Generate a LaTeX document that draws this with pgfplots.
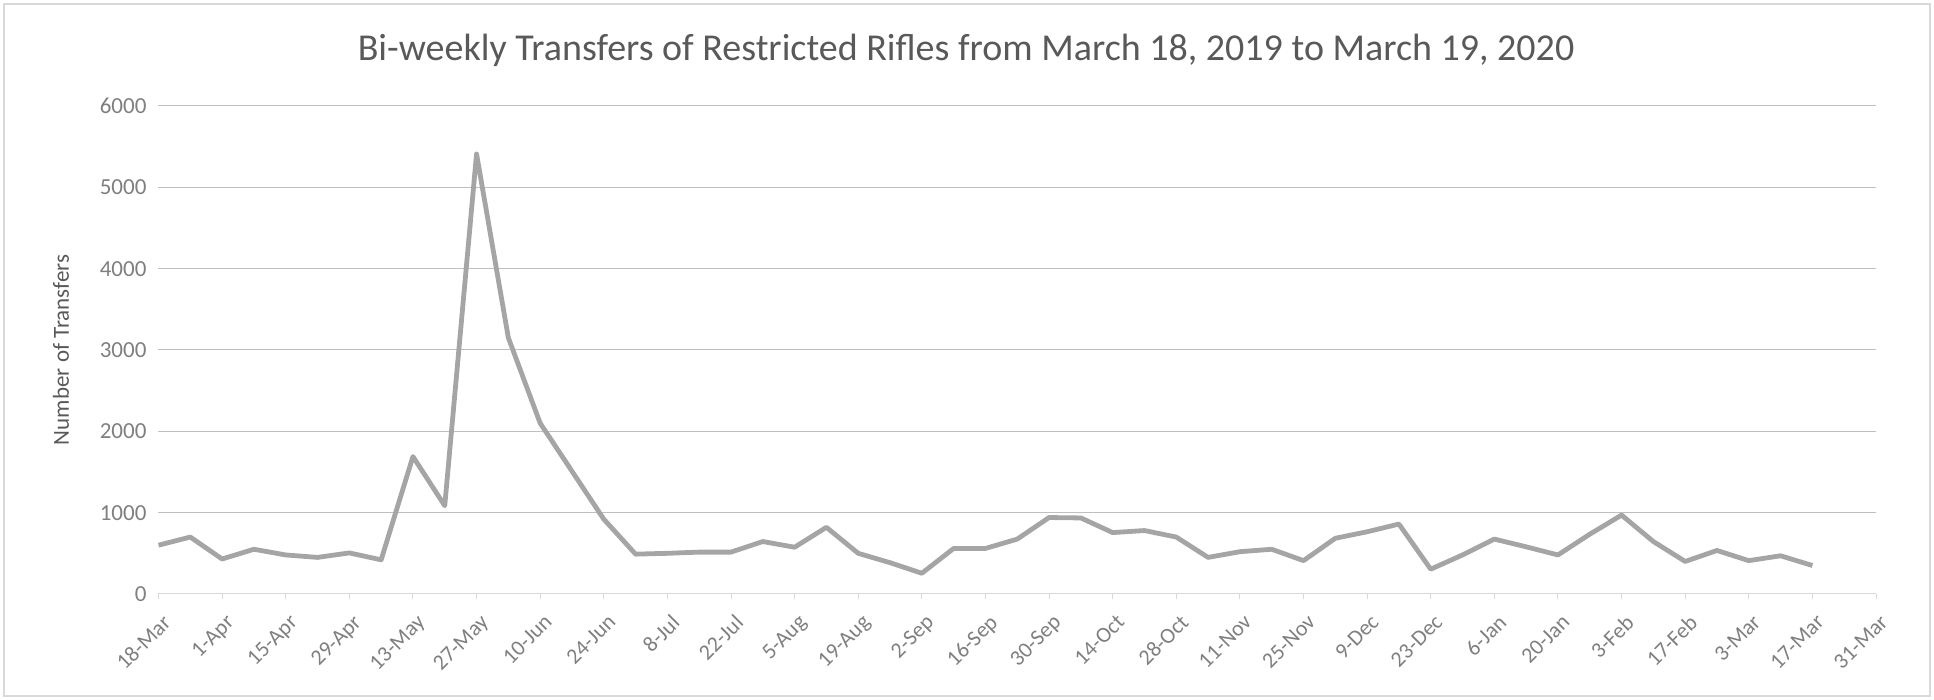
\documentclass[border=0pt]{standalone}
\usepackage{pgfplots}
\pgfplotsset{compat=1.18}
\usepackage{fontspec}
\setmainfont{Carlito}
\definecolor{txt}{HTML}{595959}
\definecolor{ticktxt}{HTML}{7F7F7F}
\definecolor{grid}{HTML}{D9D9D9}
\definecolor{ser}{HTML}{A5A5A5}
\pgfplotstableread{
w v
0 600
1 700
2 430
3 550
4 480
5 450
6 505
7 420
8 1690
9 1085
10 5410
11 3150
12 2100
13 1510
14 920
15 490
16 500
17 515
18 515
19 645
20 575
21 820
22 500
23 385
24 255
25 560
26 560
27 675
28 940
29 935
30 755
31 780
32 700
33 450
34 520
35 550
36 410
37 685
38 765
39 860
40 305
41 480
42 675
43 580
44 480
45 735
46 970
47 645
48 400
49 535
50 410
51 470
52 350
}\datatable
\begin{document}
\begin{tikzpicture}
\useasboundingbox (0,0) rectangle (967pt,350pt);
\draw[grid, line width=0.6pt] (2pt,2pt) rectangle (965pt,348pt);
\node[text=txt, font=\fontsize{19}{22}\selectfont] at (483pt,325pt) {Bi-weekly Transfers of Restricted Rifles from March 18, 2019 to March 19, 2020};
\begin{axis}[
  scale only axis,
  width=858.75pt, height=244pt,
  at={(79.25pt,53pt)}, anchor=south west,
  xmin=0, xmax=54, ymin=0, ymax=6000,
  xtick={0,2,...,54},
  xticklabels={18-Mar,1-Apr,15-Apr,29-Apr,13-May,27-May,10-Jun,24-Jun,8-Jul,22-Jul,5-Aug,19-Aug,2-Sep,16-Sep,30-Sep,14-Oct,28-Oct,11-Nov,25-Nov,9-Dec,23-Dec,6-Jan,20-Jan,3-Feb,17-Feb,3-Mar,17-Mar,31-Mar},
  ytick={0,1000,...,6000},
  /pgf/number format/assume math mode=true,
  /pgf/number format/1000 sep={},
  axis x line*=bottom,
  axis y line*=left,
  x axis line style={grid, line width=0.5pt, -},
  y axis line style={draw=none},
  ymajorgrids,
  xmajorgrids=false,
  grid style={grid, line width=0.5pt},
  tick align=outside,
  major tick length=2.5pt,
  xtick style={grid, line width=0.5pt},
  ytick style={draw=none},
  xticklabel shift=7pt,
  x tick label style={rotate=45, anchor=north east, font=\fontsize{11}{13}\selectfont, text=ticktxt, inner sep=1pt, xshift=2pt},
  y tick label style={font=\fontsize{11.5}{13}\selectfont, text=ticktxt},
  ylabel={Number of Transfers},
  ylabel style={at={(axis description cs:-0.0568,0.5)}, anchor=center, rotate=0, font=\fontsize{11.5}{13}\selectfont, text=txt},
  clip=false,
]
\addplot[ser, line width=2.4pt, line join=round, no markers] table[x=w, y=v] {\datatable};
\end{axis}
\end{tikzpicture}
\end{document}
